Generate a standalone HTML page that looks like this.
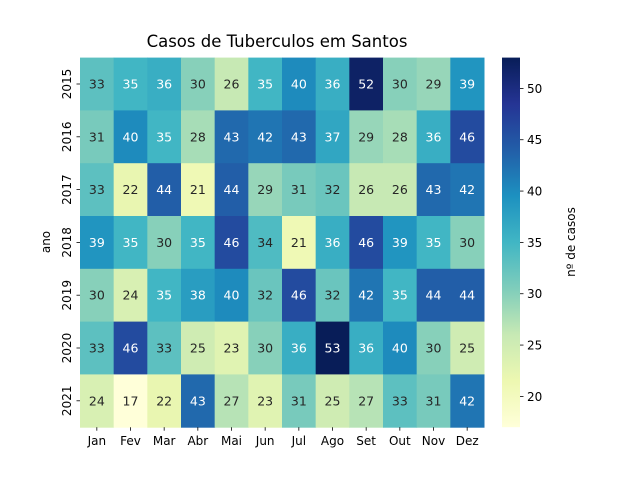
<!DOCTYPE html>
<html><head><meta charset="utf-8"><style>
body{margin:0;background:#fff;}
svg text{font-family:"DejaVu Sans","Liberation Sans",sans-serif;}
</style></head><body>
<svg width="640" height="480" xmlns="http://www.w3.org/2000/svg">
<text x="277" y="47" font-size="16.5" text-anchor="middle" fill="#000">Casos de Tuberculos em Santos</text>
<g id="cells"></g>
<g id="xt"></g>
<g id="yt"></g>
<text transform="translate(50,242) rotate(-90)" font-size="12" text-anchor="middle" fill="#000">ano</text>
<defs><linearGradient id="cg" x1="0" y1="1" x2="0" y2="0">
<stop offset="0" stop-color="#ffffd9"/><stop offset="0.125" stop-color="#edf8b1"/><stop offset="0.25" stop-color="#c7e9b4"/><stop offset="0.375" stop-color="#7fcdbb"/><stop offset="0.5" stop-color="#41b6c4"/><stop offset="0.625" stop-color="#1d91c0"/><stop offset="0.75" stop-color="#225ea8"/><stop offset="0.875" stop-color="#253494"/><stop offset="1" stop-color="#081d58"/>
</linearGradient></defs>
<rect x="502" y="57.6" width="18" height="369.6" fill="url(#cg)"/>
<g id="ct"></g>
<text transform="translate(575,242) rotate(-90)" font-size="12" text-anchor="middle" fill="#000">nº de casos</text>
</svg>
<script>
const months=["Jan","Fev","Mar","Abr","Mai","Jun","Jul","Ago","Set","Out","Nov","Dez"];
const years=["2015","2016","2017","2018","2019","2020","2021"];
const v2015=[33,35,36,30,26,35,40,36,52,30,29,39];
const v2016=[31,40,35,28,43,42,43,37,29,28,36,46];
const v2017=[33,22,44,21,44,29,31,32,26,26,43,42];
const v2018=[39,35,30,35,46,34,21,36,46,39,35,30];
const v2019=[30,24,35,38,40,32,46,32,42,35,44,44];
const v2020=[33,46,33,25,23,30,36,53,36,40,30,25];
const v2021=[24,17,22,43,27,23,31,25,27,33,31,42];
const rows=[v2015,v2016,v2017,v2018,v2019,v2020,v2021];
const cbTicks=[20,25,30,35,40,45,50];
const vmin=17,vmax=53;
const L=80,R=484,T=57.6,B=427.2;
const cw=(R-L)/months.length, rh=(B-T)/years.length;
const stops=["#ffffd9","#edf8b1","#c7e9b4","#7fcdbb","#41b6c4","#1d91c0","#225ea8","#253494","#081d58"].map(h=>[1,3,5].map(i=>parseInt(h.substr(i,2),16)));
function cmap(v){let t=Math.max(0,Math.min(1,(v-vmin)/(vmax-vmin)))*8;let i=Math.min(7,Math.floor(t)),f=t-i;return stops[i].map((c,k)=>Math.round(c+(stops[i+1][k]-c)*f));}
function lum(c){const l=c.map(x=>{x/=255;return x<=0.03928?x/12.92:Math.pow((x+0.055)/1.055,2.4)});return 0.2126*l[0]+0.7152*l[1]+0.0722*l[2];}
const NS="http://www.w3.org/2000/svg";
function mk(tag,attrs,parent){const e=document.createElementNS(NS,tag);for(const k in attrs)e.setAttribute(k,attrs[k]);parent.appendChild(e);return e;}
const cells=document.getElementById('cells');
rows.forEach((row,r)=>row.forEach((v,c)=>{
 const col=cmap(v);
 const rc=mk('rect',{x:L+c*cw,y:T+r*rh,width:cw+0.5,height:rh+0.5,fill:`rgb(${col})`},cells);
 
 
 const t=mk('text',{x:L+(c+0.5)*cw,y:T+(r+0.5)*rh+4.5,'font-size':12.5,'text-anchor':'middle',fill:lum(col)>0.408?'#262626':'#fff'},cells);
 t.textContent=v;
 
 
}));
const xt=document.getElementById('xt');
months.forEach((m,i)=>{const x=L+(i+0.5)*cw;
 const l=mk('line',{x1:x,x2:x,y1:B,y2:B+3.5,stroke:'#000','stroke-width':0.8},xt);
 
 const t=mk('text',{x:x,y:B+18,'font-size':12,'text-anchor':'middle',fill:'#000'},xt);t.textContent=m;
 });
const yt=document.getElementById('yt');
years.forEach((y,i)=>{const yy=T+(i+0.5)*rh;
 const l=mk('line',{x1:L-3.5,x2:L,y1:yy,y2:yy,stroke:'#000','stroke-width':0.8},yt);
 
 const t=mk('text',{transform:`translate(${L-9},${yy}) rotate(-90)`,'font-size':12,'text-anchor':'middle',fill:'#000'},yt);t.textContent=y;
 });
const ct=document.getElementById('ct');
cbTicks.forEach(v=>{const y=B-(v-vmin)/(vmax-vmin)*(B-T);
 const l=mk('line',{x1:520,x2:523.5,y1:y,y2:y,stroke:'#000','stroke-width':0.8},ct);
 
 const t=mk('text',{x:527,y:y+4.5,'font-size':12,fill:'#000'},ct);t.textContent=v;
 });
</script>
</body></html>
